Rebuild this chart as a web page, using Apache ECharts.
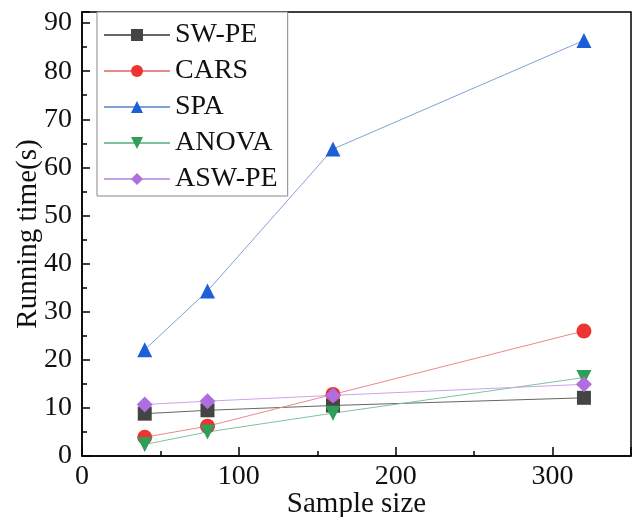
<!DOCTYPE html>
<html>
<head>
<meta charset="utf-8">
<script src="https://cdn.jsdelivr.net/npm/echarts@6/dist/echarts.min.js"></script>
<style>
  html, body { margin: 0; padding: 0; background: #fff; }
  #chart { width: 632px; height: 517px; }
</style>
</head>
<body>
<div id="chart"></div>
<script>
var sampleSizes = [40, 80, 160, 320];
var swpe  = [8.8, 9.5, 10.5, 12.1];
var cars  = [3.9, 6.2, 12.8, 26.0];
var spa   = [22.1, 34.3, 63.8, 86.4];
var anova = [2.4, 5.0, 8.9, 16.3];
var aswpe = [10.7, 11.4, 12.6, 14.9];

var names   = ['SW-PE', 'CARS', 'SPA', 'ANOVA', 'ASW-PE'];
var values  = [swpe, cars, spa, anova, aswpe];
var symbols = ['rect', 'circle', 'triangle', 'path://M0,0 L10,0 L5,9 Z', 'diamond'];
var markerColors = ['#444444', '#ee3333', '#1d5fd6', '#2e9e58', '#ae6ee0'];
var lineColors   = ['#666666', '#e88a8a', '#7fa2d6', '#7cc49a', '#c9a3ea'];
var sizes = [14, 15, 15, 15, 16];

var font = 'Liberation Serif';

function pairs(ys) {
    return sampleSizes.map(function (x, i) { return [x, ys[i]]; });
}

var myChart = echarts.init(document.getElementById('chart'));

myChart.setOption({
    animation: false,
    grid: {
        left: 82, right: 1, top: 12, bottom: 61,
        outerBoundsMode: 'none',
        containLabel: false,
        show: true,
        borderColor: '#000',
        borderWidth: 1.5
    },
    legend: {
        orient: 'vertical',
        left: 97,
        top: 12,
        padding: [9, 10, 3, 6],
        itemWidth: 66,
        itemHeight: 15,
        itemGap: 8,
        borderColor: '#888',
        borderWidth: 1,
        backgroundColor: '#fff',
        textStyle: { fontFamily: font, fontSize: 28, color: '#111' },
        data: names
    },
    xAxis: {
        type: 'value',
        min: 0,
        max: 350,
        interval: 100,
        name: 'Sample size',
        nameLocation: 'middle',
        nameGap: 34,
        nameMoveOverlap: false,
        nameTextStyle: { fontFamily: font, fontSize: 29, color: '#111' },
        axisLine: { onZero: false, lineStyle: { color: '#000', width: 1.5 } },
        axisTick: { inside: true, length: 9, lineStyle: { color: '#000', width: 1.5 } },
        minorTick: { show: true, splitNumber: 2, length: 5, lineStyle: { color: '#000', width: 1.5 } },
        axisLabel: { fontFamily: font, fontSize: 28, color: '#111', margin: 7, showMaxLabel: false },
        splitLine: { show: false }
    },
    yAxis: {
        type: 'value',
        min: 0,
        max: 92.3,
        interval: 10,
        name: 'Running time(s)',
        nameLocation: 'middle',
        nameGap: 39,
        nameMoveOverlap: false,
        nameTextStyle: { fontFamily: font, fontSize: 29, color: '#111' },
        axisLine: { onZero: false, lineStyle: { color: '#000', width: 1.5 } },
        axisTick: { inside: true, length: 8, lineStyle: { color: '#000', width: 1.5 } },
        minorTick: { show: true, splitNumber: 2, length: 5, lineStyle: { color: '#000', width: 1.5 } },
        axisLabel: { fontFamily: font, fontSize: 28, color: '#111', margin: 10, showMaxLabel: false },
        splitLine: { show: false }
    },
    series: names.map(function (n, i) {
        return {
            name: n,
            type: 'line',
            data: pairs(values[i]),
            symbol: symbols[i],
            symbolSize: sizes[i],
            itemStyle: { color: markerColors[i] },
            lineStyle: { color: lineColors[i], width: 1 },
            z: i === 2 ? 3 : 2
        };
    })
});
</script>
</body>
</html>
